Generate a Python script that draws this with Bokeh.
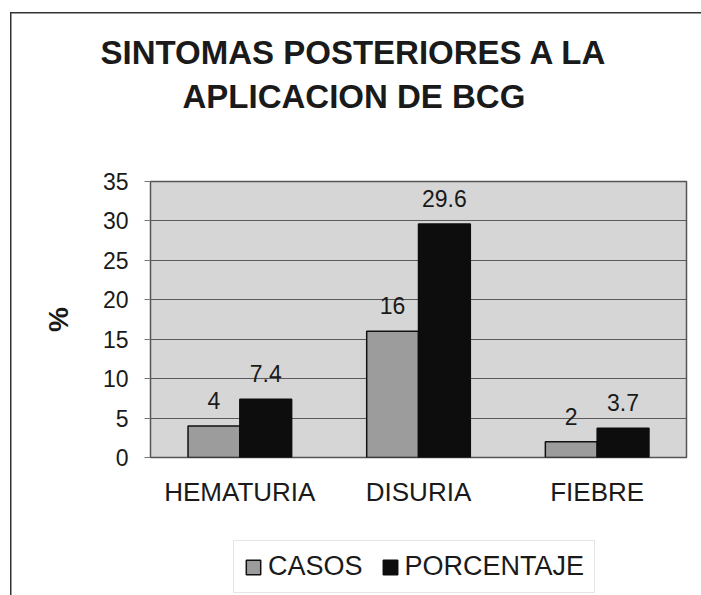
from bokeh.plotting import figure
from bokeh.models import (ColumnDataSource, FactorRange, Legend, LegendItem, Title, LabelSet)
from bokeh.layouts import column
from bokeh.transform import dodge
from bokeh.core.properties import value
from bokeh.embed import file_html
from bokeh.resources import INLINE

categories = ["HEMATURIA", "DISURIA", "FIEBRE"]
casos = [4, 16, 2]
porcentaje = [7.4, 29.6, 3.7]
casos_labels = ["4", "16", "2"]
porc_labels = ["7.4", "29.6", "3.7"]
y_ticks = [0, 5, 10, 15, 20, 25, 30, 35]
title_lines = ["SINTOMAS POSTERIORES A LA", "APLICACION DE BCG"]
series_names = ["CASOS", "PORCENTAJE"]

FONT = "Liberation Sans"
TXT = "#1a1a1a"
CASOS_FILL = "#9c9c9c"
PORC_FILL = "#0d0d0d"

src = ColumnDataSource(data=dict(cat=categories, casos=casos, porcentaje=porcentaje,
                                 casos_lab=casos_labels, porc_lab=porc_labels))

p = figure(x_range=FactorRange(*categories), y_range=(0, 35),
           width=701, height=530, output_backend="svg", toolbar_location=None,
           min_border_left=150, min_border_right=15, min_border_top=181,
           min_border_bottom=73)
p.title = None

# title block (first added = closest to plot); offsets centre the text on the whole figure
sp_top = Title(text=" ", text_font_size="10px", standoff=54, text_color="white")
t2 = Title(text=title_lines[1], align="left", offset=32, text_font=FONT,
           text_font_size="33px", text_font_style="bold", text_color=TXT, standoff=0)
t1 = Title(text=title_lines[0], align="left", offset=-50, text_font=FONT,
           text_font_size="33px", text_font_style="bold", text_color=TXT, standoff=9)
p.add_layout(sp_top, "above")
p.add_layout(t2, "above")
p.add_layout(t1, "above")

p.background_fill_color = "#d6d6d6"
p.border_fill_alpha = 0
p.outline_line_color = "#555555"
p.outline_line_width = 1.5
p.styles = {
    "background-color": "white",
    "background-image": "linear-gradient(#333333, #333333), linear-gradient(#333333, #333333)",
    "background-size": "1.5px 100%, 100% 1.5px",
    "background-position": "10px 12px, 10px 12px",
    "background-repeat": "no-repeat",
}

w = 0.29
r1 = p.vbar(x=dodge("cat", -w / 2, range=p.x_range), top="casos", width=w, source=src,
            fill_color=CASOS_FILL, line_color="#111111", line_width=1.5)
r2 = p.vbar(x=dodge("cat", w / 2, range=p.x_range), top="porcentaje", width=w, source=src,
            fill_color=PORC_FILL, line_color=PORC_FILL, line_width=1.5)

for xoff, ycol, tcol in [(-w / 2, "casos", "casos_lab"), (w / 2, "porcentaje", "porc_lab")]:
    p.add_layout(LabelSet(x=dodge("cat", xoff, range=p.x_range), y=ycol, text=tcol,
                          source=src, text_align="center", text_baseline="bottom",
                          y_offset=17, text_font=value(FONT), text_font_size="23px",
                          text_color=TXT))

# axes
p.xgrid.grid_line_color = None
p.ygrid.grid_line_color = "#5a5a5a"
p.ygrid.grid_line_width = 1.2
p.yaxis.ticker = y_ticks
p.yaxis.axis_line_color = None
p.yaxis.major_tick_line_color = "#777777"
p.yaxis.major_tick_out = 6
p.yaxis.major_tick_in = 0
p.yaxis.minor_tick_line_color = None
p.yaxis.major_label_text_font = FONT
p.yaxis.major_label_text_font_size = "23px"
p.yaxis.major_label_text_color = TXT
p.yaxis.major_label_standoff = 16
p.yaxis.axis_label = "%"
p.yaxis.axis_label_text_font = FONT
p.yaxis.axis_label_text_font_size = "28px"
p.yaxis.axis_label_text_font_style = "bold"
p.yaxis.axis_label_text_color = TXT
p.yaxis.axis_label_standoff = 26

p.xaxis.axis_line_color = None
p.xaxis.major_tick_line_color = None
p.xaxis.major_tick_out = 0
p.xaxis.major_tick_in = 0
p.xaxis.major_label_text_font = FONT
p.xaxis.major_label_text_font_size = "26px"
p.xaxis.major_label_text_color = TXT
p.xaxis.major_label_standoff = 19

# legend strip below the chart (its frame is aligned with the chart's frame)
q = figure(width=701, height=65, output_backend="svg", toolbar_location=None,
           min_border=0, x_range=FactorRange(*categories), y_range=(100, 101))
q.axis.visible = False
q.grid.visible = False
q.outline_line_color = None
q.background_fill_alpha = 0
q.border_fill_alpha = 0
q.styles = {
    "background-color": "white",
    "background-image": "linear-gradient(#333333, #333333)",
    "background-size": "1.5px 100%",
    "background-position": "10px 0px",
    "background-repeat": "no-repeat",
}
# swatch-only renderers: zero-size bars lying outside this strip's view
g1 = q.vbar(x="cat", top="casos", bottom="casos", width=0, source=src,
            fill_color=CASOS_FILL, line_color="#111111", line_width=1.5)
g2 = q.vbar(x="cat", top="porcentaje", bottom="porcentaje", width=0, source=src,
            fill_color=PORC_FILL, line_color=PORC_FILL, line_width=1.5)
legend = Legend(items=[LegendItem(label=series_names[0], renderers=[g1]),
                       LegendItem(label=series_names[1], renderers=[g2])],
                orientation="horizontal", location=(83, 2),
                label_text_font=FONT, label_text_font_size="27px",
                label_text_color=TXT, glyph_width=18, glyph_height=18,
                label_standoff=6, spacing=18, padding=10, margin=0,
                border_line_color="#cccccc", border_line_width=1,
                background_fill_color="white", background_fill_alpha=1)
q.add_layout(legend, "center")

layout = column(p, q, spacing=0)
open("out.html", "w").write(file_html(layout, INLINE))
